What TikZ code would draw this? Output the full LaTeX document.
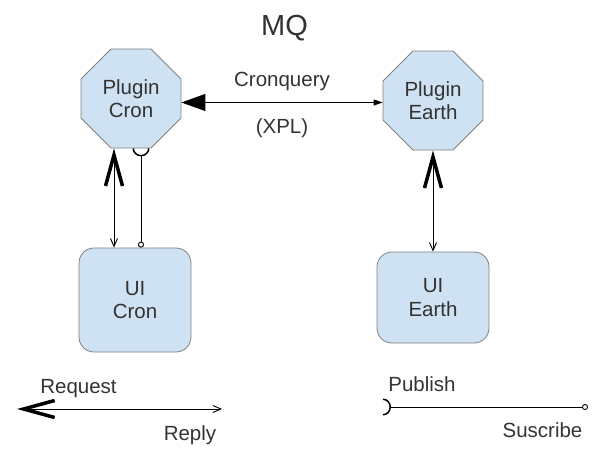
\documentclass[tikz,border=0pt]{standalone}
\usepackage{fontspec}
\setmainfont{Liberation Sans}
\usetikzlibrary{shapes.misc}
\usetikzlibrary{arrows.meta}
\definecolor{boxfill}{HTML}{CFE2F3}
\definecolor{boxline}{HTML}{808080}
\definecolor{ink}{HTML}{333333}

\begin{document}
\begin{tikzpicture}[x=1pt,y=-1pt,line width=0.9pt,
    every node/.style={text=ink,align=center,font=\fontsize{20.5}{23.5}\selectfont},
    plugin/.style={chamfered rectangle,chamfered rectangle sep=15pt,draw=boxline,
        fill=boxfill,line width=0.8pt,minimum width=100pt,minimum height=99pt,inner sep=0pt},
    ui/.style={rectangle,rounded corners=15pt,draw=boxline,fill=boxfill,
        line width=0.8pt,minimum width=112pt,inner sep=0pt},
    bigbarb/.tip={Straight Barb[length=31pt,width=17pt,line width=3.5pt]},
    smallbarb/.tip={Straight Barb[length=8pt,width=7pt]},
    bigtri/.tip={Triangle[length=24pt,width=17pt]},
    smalltri/.tip={Triangle[length=9pt,width=6pt]},
    socket/.tip={Arc Barb[reversed,length=8pt,width=17pt,line width=1.5pt]},
    plug/.tip={Circle[open,length=6pt,width=6pt]}]
    \useasboundingbox (0,0) rectangle (600,450);

    \node[anchor=base,font=\fontsize{29}{34}\selectfont] (title) at (284.5,35) {MQ};

    \node[plugin] (pcron) at (131,98.5) {Plugin\\Cron};
    \node[plugin] (pearth) at (433,100.5) {Plugin\\Earth};
    \node[ui,minimum height=104pt] (ucron) at (135,300) {UI\\Cron};
    \node[ui,minimum height=91pt] (uearth) at (433,297.5) {UI\\Earth};

    \draw[{bigtri}-{smalltri}] ([yshift=-4pt]pcron.east) -- ([yshift=-4pt]pcron.east -| pearth.west)
        node[midway,above=7.5pt] (cronquery) {Cronquery}
        node[midway,below=12pt] (xpl) {(XPL)};
    \draw[{bigbarb}-{smallbarb}] ([xshift=-17pt]pcron.south) -- ([xshift=-17pt]pcron.south |- ucron.north);
    \draw[{socket}-{plug}] ([xshift=10pt]pcron.south) -- ([xshift=10pt]pcron.south |- ucron.north);
    \draw[{bigbarb}-{smallbarb}] (pearth.south) -- (uearth.north);

    % legend
    \coordinate (reqL) at (17,409) {};
    \coordinate (reqR) at (222,409) {};
    \coordinate (pubL) at (383,407) {};
    \coordinate (pubR) at (588,407) {};
    \draw[{bigbarb}-{smallbarb}] (reqL) -- (reqR);
    \draw[{socket}-{plug}] (pubL) -- (pubR);
    \foreach \n/\x/\y/\A in {request/78.5/393/Request,reply/190/440/Reply,
            publish/422/391/Publish,suscribe/542.5/437/Suscribe} {
        \node[anchor=base] (\n) at (\x,\y) {\A};
    }
\end{tikzpicture}
\end{document}
